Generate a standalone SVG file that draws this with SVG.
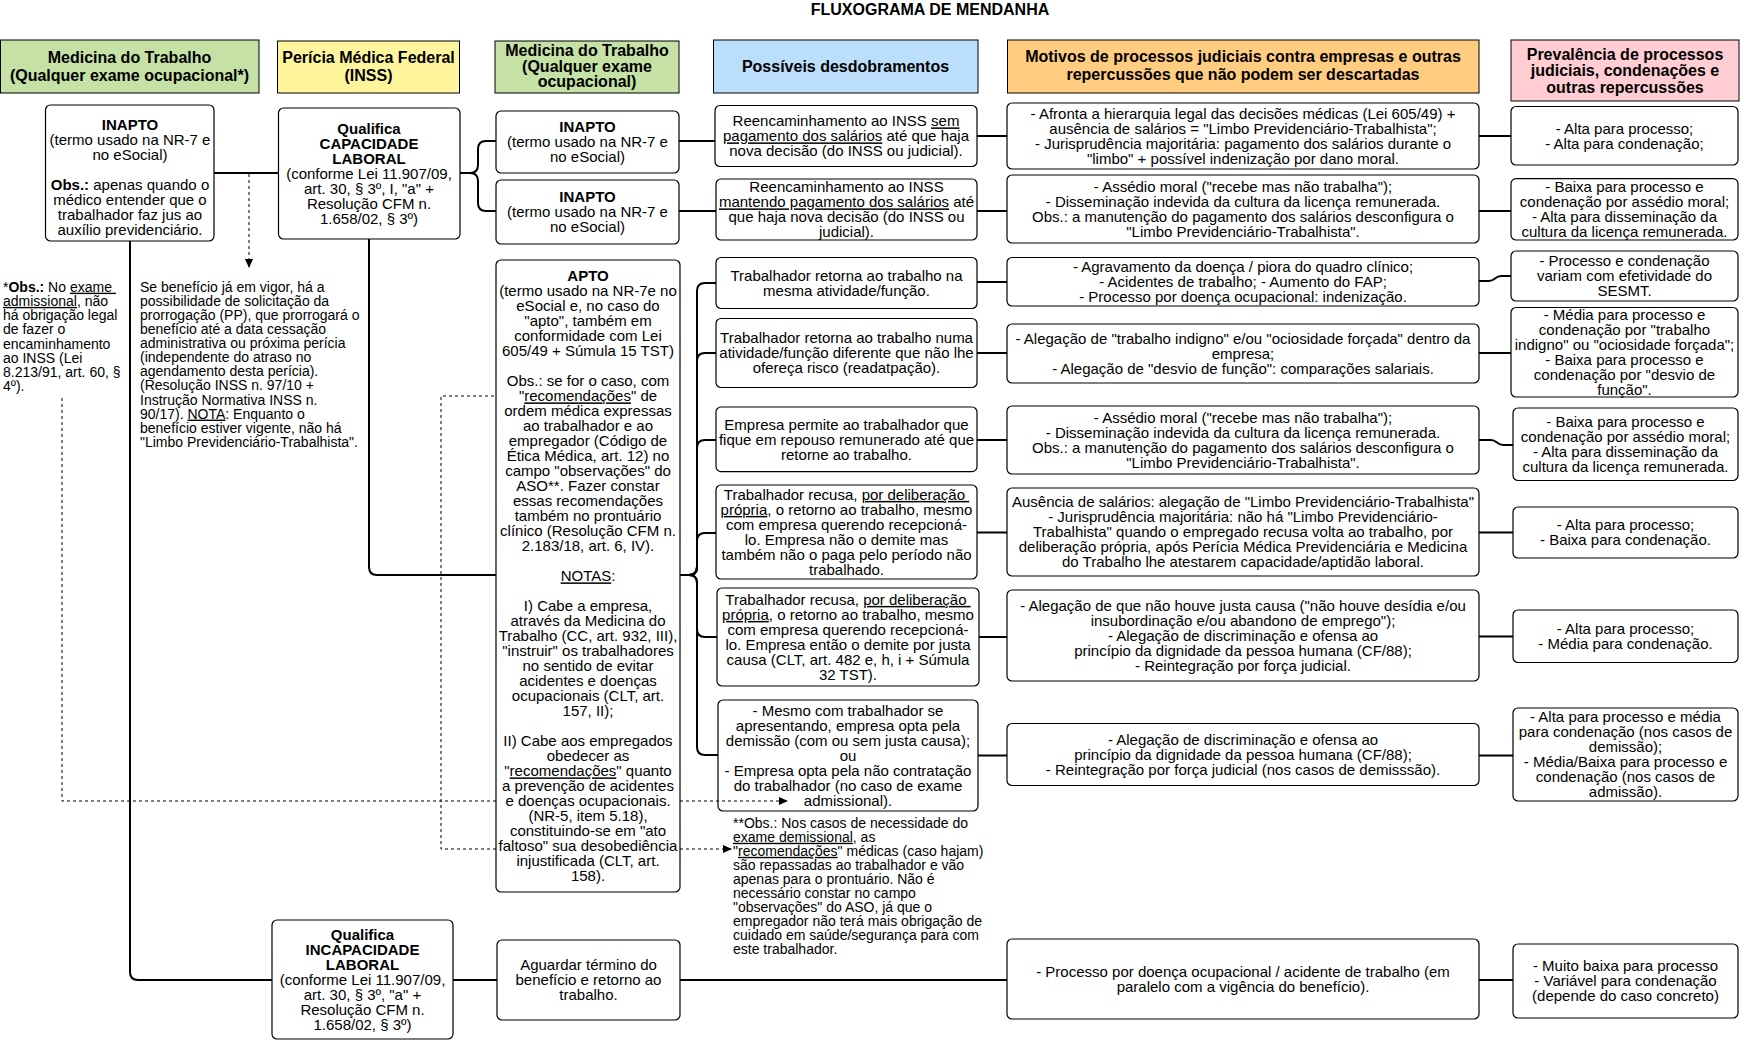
<svg xmlns="http://www.w3.org/2000/svg" width="1741" height="1042" viewBox="0 0 1741 1042">
<style>
text{font-family:"Liberation Sans",Arial,Helvetica,sans-serif;fill:#000}
.t{font-size:15px;text-anchor:middle}
.h{font-size:16px;font-weight:bold;text-anchor:middle}
.n{font-size:14px;text-anchor:start}
.b{font-weight:bold}
.u{text-decoration:underline}
.box{fill:#fff;stroke:#000;stroke-width:1.2}
.hd{stroke:#000;stroke-width:1}
.e{fill:none;stroke:#000;stroke-width:2}
.d{fill:none;stroke:#000;stroke-width:1;stroke-dasharray:3 3}
</style>
<defs>
<marker id="arr" markerWidth="9" markerHeight="8" refX="8" refY="4" orient="auto" markerUnits="userSpaceOnUse"><path d="M0,0 L9,4 L0,8 z" fill="#000"/></marker>
</defs>
<rect width="1741" height="1042" fill="#fff"/>
<text class="h" x="930" y="15">FLUXOGRAMA DE MENDANHA</text>

<g id="headers">
<g id="h1"><rect class="hd" x="0.5" y="40" width="258.5" height="53" fill="#C5E1A5"/><text class="h"><tspan x="129.5" y="62.5">Medicina do Trabalho</tspan><tspan x="129.5" dy="18">(Qualquer exame ocupacional*)</tspan></text></g>
<g id="h2"><rect class="hd" x="277.5" y="41" width="182" height="52" fill="#FFF59D"/><text class="h"><tspan x="368.5" y="62.5">Perícia Médica Federal</tspan><tspan x="368.5" dy="18">(INSS)</tspan></text></g>
<g id="h3"><rect class="hd" x="495" y="41" width="184" height="52" fill="#C5E1A5"/><text class="h"><tspan x="587" y="56">Medicina do Trabalho</tspan><tspan x="587" dy="15.5">(Qualquer exame</tspan><tspan x="587" dy="15.5">ocupacional)</tspan></text></g>
<g id="h4"><rect class="hd" x="713.5" y="40" width="264.5" height="53" fill="#BBDEFB"/><text class="h" x="845.5" y="72">Possíveis desdobramentos</text></g>
<g id="h5"><rect class="hd" x="1007.5" y="40" width="471.5" height="53" fill="#FFCC80"/><text class="h"><tspan x="1243" y="62">Motivos de processos judiciais contra empresas e outras</tspan><tspan x="1243" dy="18">repercussões que não podem ser descartadas</tspan></text></g>
<g id="h6"><rect class="hd" x="1511" y="40" width="228" height="61" fill="#FFCDD2"/><text class="h"><tspan x="1625" y="59.5">Prevalência de processos</tspan><tspan x="1625" dy="16.5">judiciais, condenações e</tspan><tspan x="1625" dy="16.5">outras repercussões</tspan></text></g>
</g>

<g id="notes">
<g id="note1"><text class="n"><tspan x="3" y="291.7">*<tspan class="b">Obs.:</tspan> No <tspan class="u">exame </tspan></tspan><tspan x="3" dy="14.2"><tspan class="u">admissional</tspan>, não</tspan><tspan x="3" dy="14.2">há obrigação legal</tspan><tspan x="3" dy="14.2">de fazer o</tspan><tspan x="3" dy="14.2">encaminhamento</tspan><tspan x="3" dy="14.2">ao INSS (Lei</tspan><tspan x="3" dy="14.2">8.213/91, art. 60, §</tspan><tspan x="3" dy="14.2">4º).</tspan></text></g>
<g id="note2"><text class="n"><tspan x="140" y="291.7">Se benefício já em vigor, há a</tspan><tspan x="140" dy="14.1">possibilidade de solicitação da</tspan><tspan x="140" dy="14.1">prorrogação (PP), que prorrogará o</tspan><tspan x="140" dy="14.1">benefício até a data cessação</tspan><tspan x="140" dy="14.1">administrativa ou próxima perícia</tspan><tspan x="140" dy="14.1">(independente do atraso no</tspan><tspan x="140" dy="14.1">agendamento desta perícia).</tspan><tspan x="140" dy="14.1">(Resolução INSS n. 97/10 +</tspan><tspan x="140" dy="14.1">Instrução Normativa INSS n.</tspan><tspan x="140" dy="14.1">90/17). <tspan class="u">NOTA</tspan>: Enquanto o</tspan><tspan x="140" dy="14.1">benefício estiver vigente, não há</tspan><tspan x="140" dy="14.1">"Limbo Previdenciário-Trabalhista".</tspan></text></g>
<g id="note3"><text class="n"><tspan x="733" y="827.7">**Obs.: Nos casos de necessidade do</tspan><tspan x="733" dy="14.07"><tspan class="u">exame demissional</tspan>, as</tspan><tspan x="733" dy="14.07">"<tspan class="u">recomendações</tspan>" médicas (caso hajam)</tspan><tspan x="733" dy="14.07">são repassadas ao trabalhador e vão</tspan><tspan x="733" dy="14.07">apenas para o prontuário. Não é</tspan><tspan x="733" dy="14.07">necessário constar no campo</tspan><tspan x="733" dy="14.07">"observações" do ASO, já que o</tspan><tspan x="733" dy="14.07">empregador não terá mais obrigação de</tspan><tspan x="733" dy="14.07">cuidado em saúde/segurança para com</tspan><tspan x="733" dy="14.07">este trabalhador.</tspan></text></g>
</g>

<g id="connectors-under">
<path class="d" d="M62,398 V801 H500"/>
<path class="d" d="M500,396 H441 V849 H500"/>
</g>

<g id="nodes">
<g id="inapto1"><rect class="box" x="45.5" y="105" width="168.5" height="136" rx="5"/><text class="t"><tspan x="130" y="129.5" class="b">INAPTO</tspan><tspan x="130" dy="15">(termo usado na NR-7 e</tspan><tspan x="130" dy="15">no eSocial)</tspan><tspan x="130" dy="30"><tspan class="b">Obs.:</tspan> apenas quando o</tspan><tspan x="130" dy="15">médico entender que o</tspan><tspan x="130" dy="15">trabalhador faz jus ao</tspan><tspan x="130" dy="15">auxílio previdenciário.</tspan></text></g>

<g id="capacidade"><rect class="box" x="278.5" y="108" width="181.5" height="131" rx="5"/><text class="t"><tspan x="369" y="134" class="b">Qualifica</tspan><tspan x="369" dy="15" class="b">CAPACIDADE</tspan><tspan x="369" dy="15" class="b">LABORAL</tspan><tspan x="369" dy="15">(conforme Lei 11.907/09,</tspan><tspan x="369" dy="15">art. 30, § 3º, I, "a" +</tspan><tspan x="369" dy="15">Resolução CFM n.</tspan><tspan x="369" dy="15">1.658/02, § 3º)</tspan></text></g>

<g id="incapacidade"><rect class="box" x="272" y="920" width="181" height="119" rx="5"/><text class="t"><tspan x="362.5" y="939.9" class="b">Qualifica</tspan><tspan x="362.5" dy="15" class="b">INCAPACIDADE</tspan><tspan x="362.5" dy="15" class="b">LABORAL</tspan><tspan x="362.5" dy="15">(conforme Lei 11.907/09,</tspan><tspan x="362.5" dy="15">art. 30, § 3º, "a" +</tspan><tspan x="362.5" dy="15">Resolução CFM n.</tspan><tspan x="362.5" dy="15">1.658/02, § 3º)</tspan></text></g>

<g id="inapto2"><rect class="box" x="496" y="111" width="183" height="62" rx="5"/><text class="t"><tspan x="587.5" y="132.4" class="b">INAPTO</tspan><tspan x="587.5" dy="15">(termo usado na NR-7 e</tspan><tspan x="587.5" dy="15">no eSocial)</tspan></text></g>

<g id="inapto3"><rect class="box" x="496" y="180" width="183" height="64" rx="5"/><text class="t"><tspan x="587.5" y="202.4" class="b">INAPTO</tspan><tspan x="587.5" dy="15">(termo usado na NR-7 e</tspan><tspan x="587.5" dy="15">no eSocial)</tspan></text></g>

<g id="apto"><rect class="box" x="496" y="260" width="184" height="632" rx="5"/><text class="t"><tspan x="588" y="281.4" class="b">APTO</tspan><tspan x="588" dy="15">(termo usado na NR-7e no</tspan><tspan x="588" dy="15">eSocial e, no caso do</tspan><tspan x="588" dy="15">"apto", também em</tspan><tspan x="588" dy="15">conformidade com Lei</tspan><tspan x="588" dy="15">605/49 + Súmula 15 TST)</tspan><tspan x="588" dy="30">Obs.: se for o caso, com</tspan><tspan x="588" dy="15">"<tspan class="u">recomendações</tspan>" de</tspan><tspan x="588" dy="15">ordem médica expressas</tspan><tspan x="588" dy="15">ao trabalhador e ao</tspan><tspan x="588" dy="15">empregador (Código de</tspan><tspan x="588" dy="15">Ética Médica, art. 12) no</tspan><tspan x="588" dy="15">campo "observações" do</tspan><tspan x="588" dy="15">ASO**. Fazer constar</tspan><tspan x="588" dy="15">essas recomendações</tspan><tspan x="588" dy="15">também no prontuário</tspan><tspan x="588" dy="15">clínico (Resolução CFM n.</tspan><tspan x="588" dy="15">2.183/18, art. 6, IV).</tspan><tspan x="588" dy="30"><tspan class="u">NOTAS</tspan>:</tspan><tspan x="588" dy="30">I) Cabe a empresa,</tspan><tspan x="588" dy="15">através da Medicina do</tspan><tspan x="588" dy="15">Trabalho (CC, art. 932, III),</tspan><tspan x="588" dy="15">"instruir" os trabalhadores</tspan><tspan x="588" dy="15">no sentido de evitar</tspan><tspan x="588" dy="15">acidentes e doenças</tspan><tspan x="588" dy="15">ocupacionais (CLT, art.</tspan><tspan x="588" dy="15">157, II);</tspan><tspan x="588" dy="30">II) Cabe aos empregados</tspan><tspan x="588" dy="15">obedecer as</tspan><tspan x="588" dy="15">"<tspan class="u">recomendações</tspan>" quanto</tspan><tspan x="588" dy="15">a prevenção de acidentes</tspan><tspan x="588" dy="15">e doenças ocupacionais.</tspan><tspan x="588" dy="15">(NR-5, item 5.18),</tspan><tspan x="588" dy="15">constituindo-se em "ato</tspan><tspan x="588" dy="15">faltoso" sua desobediência</tspan><tspan x="588" dy="15">injustificada (CLT, art.</tspan><tspan x="588" dy="15">158).</tspan></text></g>

<g id="aguardar"><rect class="box" x="497" y="940" width="183" height="80" rx="5"/><text class="t"><tspan x="588.5" y="970.4">Aguardar término do</tspan><tspan x="588.5" dy="15">benefício e retorno ao</tspan><tspan x="588.5" dy="15">trabalho.</tspan></text></g>

<g id="d1"><rect class="box" x="715" y="105.5" width="262" height="61" rx="5"/><text class="t"><tspan x="846" y="126.4">Reencaminhamento ao INSS <tspan class="u">sem</tspan></tspan><tspan x="846" dy="15"><tspan class="u">pagamento dos salários</tspan> até que haja</tspan><tspan x="846" dy="15">nova decisão (do INSS ou judicial).</tspan></text></g>
<g id="d2"><rect class="box" x="716" y="179" width="261" height="61" rx="5"/><text class="t"><tspan x="846.5" y="192.4">Reencaminhamento ao INSS</tspan><tspan x="846.5" dy="15"><tspan class="u">mantendo pagamento dos salários</tspan> até</tspan><tspan x="846.5" dy="15">que haja nova decisão (do INSS ou</tspan><tspan x="846.5" dy="15">judicial).</tspan></text></g>
<g id="d3"><rect class="box" x="716" y="257.5" width="261" height="51" rx="5"/><text class="t"><tspan x="846.5" y="281">Trabalhador retorna ao trabalho na</tspan><tspan x="846.5" dy="15">mesma atividade/função.</tspan></text></g>
<g id="d4"><rect class="box" x="716" y="318.5" width="261" height="69" rx="5"/><text class="t"><tspan x="846.5" y="343.4">Trabalhador retorna ao trabalho numa</tspan><tspan x="846.5" dy="15">atividade/função diferente que não lhe</tspan><tspan x="846.5" dy="15">ofereça risco (readatpação).</tspan></text></g>
<g id="d5"><rect class="box" x="716" y="407" width="261" height="64.6" rx="5"/><text class="t"><tspan x="846.5" y="429.7">Empresa permite ao trabalhador que</tspan><tspan x="846.5" dy="15">fique em repouso remunerado até que</tspan><tspan x="846.5" dy="15">retorne ao trabalho.</tspan></text></g>
<g id="d6"><rect class="box" x="716" y="485" width="261" height="94" rx="5"/><text class="t"><tspan x="846.5" y="499.9">Trabalhador recusa, <tspan class="u">por deliberação </tspan></tspan><tspan x="846.5" dy="15"><tspan class="u">própria</tspan>, o retorno ao trabalho, mesmo</tspan><tspan x="846.5" dy="15">com empresa querendo recepcioná-</tspan><tspan x="846.5" dy="15">lo. Empresa não o demite mas</tspan><tspan x="846.5" dy="15">também não o paga pelo período não</tspan><tspan x="846.5" dy="15">trabalhado.</tspan></text></g>
<g id="d7"><rect class="box" x="717" y="588" width="262" height="98" rx="5"/><text class="t"><tspan x="848" y="604.9">Trabalhador recusa, <tspan class="u">por deliberação </tspan></tspan><tspan x="848" dy="15"><tspan class="u">própria</tspan>, o retorno ao trabalho, mesmo</tspan><tspan x="848" dy="15">com empresa querendo recepcioná-</tspan><tspan x="848" dy="15">lo. Empresa então o demite por justa</tspan><tspan x="848" dy="15">causa (CLT, art. 482 e, h, i + Súmula</tspan><tspan x="848" dy="15">32 TST).</tspan></text></g>
<g id="d8"><rect class="box" x="718" y="700" width="260" height="111" rx="5"/><text class="t"><tspan x="848" y="715.9">- Mesmo com trabalhador se</tspan><tspan x="848" dy="15">apresentando, empresa opta pela</tspan><tspan x="848" dy="15">demissão (com ou sem justa causa);</tspan><tspan x="848" dy="15">ou</tspan><tspan x="848" dy="15">- Empresa opta pela não contratação</tspan><tspan x="848" dy="15">do trabalhador (no caso de exame</tspan><tspan x="848" dy="15">admissional).</tspan></text></g>

<g id="e1"><rect class="box" x="1007" y="103" width="472" height="66" rx="5"/><text class="t"><tspan x="1243" y="118.9">- Afronta a hierarquia legal das decisões médicas (Lei 605/49) +</tspan><tspan x="1243" dy="15">ausência de salários = "Limbo Previdenciário-Trabalhista";</tspan><tspan x="1243" dy="15">- Jurisprudência majoritária: pagamento dos salários durante o</tspan><tspan x="1243" dy="15">"limbo" + possível indenização por dano moral.</tspan></text></g>
<g id="e2"><rect class="box" x="1007" y="175" width="472" height="68" rx="5"/><text class="t"><tspan x="1243" y="191.9">- Assédio moral ("recebe mas não trabalha");</tspan><tspan x="1243" dy="15">- Disseminação indevida da cultura da licença remunerada.</tspan><tspan x="1243" dy="15">Obs.: a manutenção do pagamento dos salários desconfigura o</tspan><tspan x="1243" dy="15">"Limbo Previdenciário-Trabalhista".</tspan></text></g>
<g id="e3"><rect class="box" x="1007" y="257.5" width="472" height="48.5" rx="5"/><text class="t"><tspan x="1243" y="272.1">- Agravamento da doença / piora do quadro clínico;</tspan><tspan x="1243" dy="15">- Acidentes de trabalho; - Aumento do FAP;</tspan><tspan x="1243" dy="15">- Processo por doença ocupacional: indenização.</tspan></text></g>
<g id="e4"><rect class="box" x="1007" y="324" width="472" height="59" rx="5"/><text class="t"><tspan x="1243" y="343.9">- Alegação de "trabalho indigno" e/ou "ociosidade forçada" dentro da</tspan><tspan x="1243" dy="15">empresa;</tspan><tspan x="1243" dy="15">- Alegação de "desvio de função": comparações salariais.</tspan></text></g>
<g id="e5"><rect class="box" x="1007" y="406" width="472" height="68" rx="5"/><text class="t"><tspan x="1243" y="422.9">- Assédio moral ("recebe mas não trabalha");</tspan><tspan x="1243" dy="15">- Disseminação indevida da cultura da licença remunerada.</tspan><tspan x="1243" dy="15">Obs.: a manutenção do pagamento dos salários desconfigura o</tspan><tspan x="1243" dy="15">"Limbo Previdenciário-Trabalhista".</tspan></text></g>
<g id="e6"><rect class="box" x="1007" y="488" width="472" height="88" rx="5"/><text class="t"><tspan x="1243" y="507.4">Ausência de salários: alegação de "Limbo Previdenciário-Trabalhista"</tspan><tspan x="1243" dy="15">- Jurisprudência majoritária: não há "Limbo Previdenciário-</tspan><tspan x="1243" dy="15">Trabalhista" quando o empregado recusa volta ao trabalho, por</tspan><tspan x="1243" dy="15">deliberação própria, após Perícia Médica Previdenciária e Medicina</tspan><tspan x="1243" dy="15">do Trabalho lhe atestarem capacidade/aptidão laboral.</tspan></text></g>
<g id="e7"><rect class="box" x="1007" y="590" width="472" height="91" rx="5"/><text class="t"><tspan x="1243" y="610.9">- Alegação de que não houve justa causa ("não houve desídia e/ou</tspan><tspan x="1243" dy="15">insubordinação e/ou abandono de emprego");</tspan><tspan x="1243" dy="15">- Alegação de discriminação e ofensa ao</tspan><tspan x="1243" dy="15">princípio da dignidade da pessoa humana (CF/88);</tspan><tspan x="1243" dy="15">- Reintegração por força judicial.</tspan></text></g>
<g id="e8"><rect class="box" x="1007" y="723.5" width="472" height="62" rx="5"/><text class="t"><tspan x="1243" y="744.9">- Alegação de discriminação e ofensa ao</tspan><tspan x="1243" dy="15">princípio da dignidade da pessoa humana (CF/88);</tspan><tspan x="1243" dy="15">- Reintegração por força judicial (nos casos de demisssão).</tspan></text></g>
<g id="e9"><rect class="box" x="1007" y="939" width="472" height="80" rx="5"/><text class="t"><tspan x="1243" y="976.9">- Processo por doença ocupacional / acidente de trabalho (em</tspan><tspan x="1243" dy="15">paralelo com a vigência do benefício).</tspan></text></g>

<g id="f1"><rect class="box" x="1511" y="106.5" width="227" height="58.5" rx="5"/><text class="t"><tspan x="1624.5" y="133.6">- Alta para processo;</tspan><tspan x="1624.5" dy="15">- Alta para condenação;</tspan></text></g>
<g id="f2"><rect class="box" x="1511" y="178.7" width="227" height="61.3" rx="5"/><text class="t"><tspan x="1624.5" y="192.2">- Baixa para processo e</tspan><tspan x="1624.5" dy="15">condenação por assédio moral;</tspan><tspan x="1624.5" dy="15">- Alta para disseminação da</tspan><tspan x="1624.5" dy="15">cultura da licença remunerada.</tspan></text></g>
<g id="f3"><rect class="box" x="1511" y="251" width="227" height="50" rx="5"/><text class="t"><tspan x="1624.5" y="266.4">- Processo e condenação</tspan><tspan x="1624.5" dy="15">variam com efetividade do</tspan><tspan x="1624.5" dy="15">SESMT.</tspan></text></g>
<g id="f4"><rect class="box" x="1511" y="307.5" width="227" height="89.5" rx="5"/><text class="t"><tspan x="1624.5" y="320.2">- Média para processo e</tspan><tspan x="1624.5" dy="15">condenação por "trabalho</tspan><tspan x="1624.5" dy="15">indigno" ou "ociosidade forçada";</tspan><tspan x="1624.5" dy="15">- Baixa para processo e</tspan><tspan x="1624.5" dy="15">condenação por "desvio de</tspan><tspan x="1624.5" dy="15">função".</tspan></text></g>
<g id="f5"><rect class="box" x="1513" y="408" width="225" height="72.5" rx="5"/><text class="t"><tspan x="1625.5" y="427.2">- Baixa para processo e</tspan><tspan x="1625.5" dy="15">condenação por assédio moral;</tspan><tspan x="1625.5" dy="15">- Alta para disseminação da</tspan><tspan x="1625.5" dy="15">cultura da licença remunerada.</tspan></text></g>
<g id="f6"><rect class="box" x="1513" y="507" width="225" height="51" rx="5"/><text class="t"><tspan x="1625.5" y="530.4">- Alta para processo;</tspan><tspan x="1625.5" dy="15">- Baixa para condenação.</tspan></text></g>
<g id="f7"><rect class="box" x="1513" y="610" width="225" height="52.5" rx="5"/><text class="t"><tspan x="1625.5" y="634.2">- Alta para processo;</tspan><tspan x="1625.5" dy="15">- Média para condenação.</tspan></text></g>
<g id="f8"><rect class="box" x="1513" y="708" width="225" height="93" rx="5"/><text class="t"><tspan x="1625.5" y="722.4">- Alta para processo e média</tspan><tspan x="1625.5" dy="15">para condenação (nos casos de</tspan><tspan x="1625.5" dy="15">demissão);</tspan><tspan x="1625.5" dy="15">- Média/Baixa para processo e</tspan><tspan x="1625.5" dy="15">condenação (nos casos de</tspan><tspan x="1625.5" dy="15">admissão).</tspan></text></g>
<g id="f9"><rect class="box" x="1513" y="944" width="225" height="74" rx="5"/><text class="t"><tspan x="1625.5" y="971.4">- Muito baixa para processo</tspan><tspan x="1625.5" dy="15">- Variável para condenação</tspan><tspan x="1625.5" dy="15">(depende do caso concreto)</tspan></text></g>
</g>

<g id="connectors">
<path class="e" d="M214,173 H278.5"/>
<path class="d" d="M249,174 V267" marker-end="url(#arr)"/>
<path class="e" d="M460,173 H470 Q478,173 478,165 V149 Q478,141 486,141 H496"/>
<path class="e" d="M460,173 H470 Q478,173 478,181 V203 Q478,211 486,211 H496"/>
<path class="e" d="M130,241 V972 Q130,980 138,980 H272"/>
<path class="e" d="M369,239 V567 Q369,575 377,575 H496"/>
<path class="e" d="M679,141 H715"/>
<path class="e" d="M679,211 H716"/>
<path class="e" d="M680,575 H689 Q697,575 697,567 V291 Q697,283 705,283 H716"/>
<path class="e" d="M680,575 H689 Q697,575 697,567 V361 Q697,353 705,353 H716"/>
<path class="e" d="M680,575 H689 Q697,575 697,567 V448 Q697,440 705,440 H716"/>
<path class="e" d="M680,575 H689 Q697,575 697,567 V541 Q697,533 705,533 H716"/>
<path class="e" d="M680,575 H689 Q697,575 697,583 V629 Q697,637 705,637 H717"/>
<path class="e" d="M680,575 H689 Q697,575 697,583 V747 Q697,755 705,755 H718"/>
<path class="e" d="M977,136 H1007"/>
<path class="e" d="M977,211 H1007"/>
<path class="e" d="M977,282 H1007"/>
<path class="e" d="M977,353 H1007"/>
<path class="e" d="M977,440 H1007"/>
<path class="e" d="M977,532.5 H1007"/>
<path class="e" d="M979,637 H1007"/>
<path class="e" d="M978,755.5 H1007"/>
<path class="e" d="M1479,136 H1511"/>
<path class="e" d="M1479,211 H1511"/>
<path class="e" d="M1479,281 H1489 C1495,281 1495,276 1501,276 H1511"/>
<path class="e" d="M1479,353 H1511"/>
<path class="e" d="M1479,440 H1491 C1497,440 1497,445 1503,445 H1513"/>
<path class="e" d="M1479,532.5 H1513"/>
<path class="e" d="M1479,636.5 H1513"/>
<path class="e" d="M1479,755.5 H1513"/>
<path class="e" d="M1479,980 H1513"/>
<path class="e" d="M453,980 H497"/>
<path class="e" d="M680,980 H1007"/>
<path class="d" d="M680,801 H787" marker-end="url(#arr)"/>
<path class="d" d="M680,849 H731" marker-end="url(#arr)"/>
</g>
</svg>
